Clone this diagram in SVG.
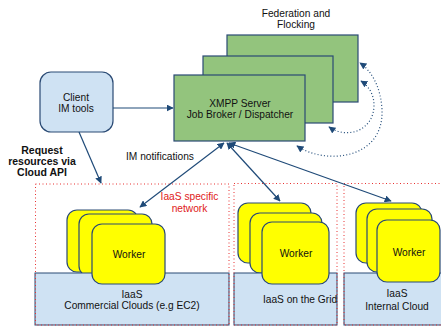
<svg xmlns="http://www.w3.org/2000/svg" width="441" height="327" viewBox="0 0 441 327">
  <defs>
    <marker id="arrow" viewBox="0 0 10 10" refX="9" refY="5" markerWidth="7" markerHeight="7" markerUnits="userSpaceOnUse" orient="auto-start-reverse">
      <path d="M0,0 L10,5 L0,10 z" fill="#1f4a78"/>
    </marker>
    <style>
      text { font-family: "Liberation Sans", Arial, sans-serif; font-size: 10.2px; fill: #111; text-anchor: middle; }
      .bold { font-weight: bold; font-size: 10.5px; }
      .red { fill: #e02020; }
      .client { fill: #cfe2f3; stroke: #2a4a74; stroke-width: 1.2; }
      .server { fill: #93c47d; stroke: #2a4a74; stroke-width: 1.2; }
      .worker { fill: #ffff00; stroke: #2a4a74; stroke-width: 1.2; }
      .iaas { fill: #cfe2f3; stroke: #2a4a74; stroke-width: 1; }
      .zone { fill: none; stroke: #e83030; stroke-width: 1; stroke-dasharray: 1 2.5; }
      .conn { fill: none; stroke: #1f4a78; stroke-width: 1.2; }
      .dots { fill: none; stroke: #1f4a78; stroke-width: 1.2; stroke-dasharray: 1 2.2; }
    </style>
  </defs>

  <!-- Federation label -->
  <g id="federation-label">
    <text x="296" y="17">Federation and</text>
    <text x="296" y="28">Flocking</text>
  </g>

  <!-- Stacked XMPP servers -->
  <g id="server-back">
    <rect class="server" x="227" y="35" width="131" height="67"/>
  </g>
  <g id="server-middle">
    <rect class="server" x="203" y="56" width="130" height="67"/>
  </g>
  <g id="server">
    <rect class="server" x="174" y="75" width="131" height="66"/>
    <text x="240" y="107">XMPP Server</text>
    <text x="240" y="118">Job Broker / Dispatcher</text>
  </g>

  <!-- Client -->
  <g id="client">
    <rect class="client" x="40" y="72" width="73" height="60" rx="11"/>
    <text x="76" y="100.5">Client</text>
    <text x="76" y="112">IM tools</text>
  </g>

  <g id="request-label">
    <text class="bold" x="42" y="154">Request</text>
    <text class="bold" x="42" y="165">resources via</text>
    <text class="bold" x="42" y="176">Cloud API</text>
  </g>

  <g id="notifications-label">
    <text x="160" y="160">IM notifications</text>
  </g>

  <!-- Commercial clouds zone -->
  <g id="zone-commercial">
    <rect class="worker" x="67" y="210" width="71" height="62" rx="10"/>
    <rect class="worker" x="79" y="214" width="73" height="62" rx="10"/>
    <rect class="iaas" x="35" y="273" width="194" height="52"/>
    <rect class="zone" x="35.5" y="184" width="193.5" height="141"/>
    <rect class="worker" x="92" y="224" width="73" height="60" rx="10"/>
    <text x="129" y="257.5">Worker</text>
    <text x="132" y="297.5">IaaS</text>
    <text x="132" y="309">Commercial Clouds (e.g EC2)</text>
    <text class="red" x="189.5" y="200">IaaS specific</text>
    <text class="red" x="189.5" y="211.5">network</text>
  </g>

  <!-- Grid zone -->
  <g id="zone-grid">
    <rect class="worker" x="238" y="203" width="73" height="60" rx="10"/>
    <rect class="worker" x="250" y="213" width="72" height="60" rx="10"/>
    <rect class="iaas" x="234" y="273" width="103" height="52"/>
    <rect class="zone" x="234" y="183.5" width="103" height="141.5"/>
    <rect class="worker" x="262" y="222" width="67" height="62" rx="10"/>
    <text x="296" y="256.5">Worker</text>
    <text x="300" y="302.5">IaaS on the Grid</text>
  </g>

  <!-- Internal cloud zone -->
  <g id="zone-internal">
    <rect class="worker" x="356" y="203" width="66" height="60" rx="10"/>
    <rect class="worker" x="367" y="209" width="65" height="63" rx="10"/>
    <rect class="iaas" x="344" y="273" width="100" height="52"/>
    <rect class="zone" x="344" y="183.5" width="100" height="141.5"/>
    <rect class="worker" x="377" y="220" width="63" height="62" rx="10"/>
    <text x="409" y="255.5">Worker</text>
    <text x="397" y="297">IaaS</text>
    <text x="397" y="309.5">Internal Cloud</text>
  </g>

  <!-- Connectors -->
  <g id="connectors">
    <line class="conn" x1="113" y1="108" x2="173" y2="108" marker-end="url(#arrow)"/>
    <line class="conn" x1="79" y1="132" x2="101" y2="183" marker-end="url(#arrow)"/>
    <line class="conn" x1="224" y1="143" x2="140" y2="207" marker-start="url(#arrow)" marker-end="url(#arrow)"/>
    <line class="conn" x1="227" y1="143" x2="280" y2="201" marker-start="url(#arrow)" marker-end="url(#arrow)"/>
    <line class="conn" x1="229" y1="143" x2="391" y2="201" marker-start="url(#arrow)" marker-end="url(#arrow)"/>
    <path class="dots" d="M297,146 C325,165 384,160 382,110 C381,88 372,71 360,63" marker-start="url(#arrow)" marker-end="url(#arrow)"/>
    <path class="dots" d="M329,127 C348,140 374,130 374,105 C374,95 369,86 361,81" marker-start="url(#arrow)" marker-end="url(#arrow)"/>
  </g>
</svg>
